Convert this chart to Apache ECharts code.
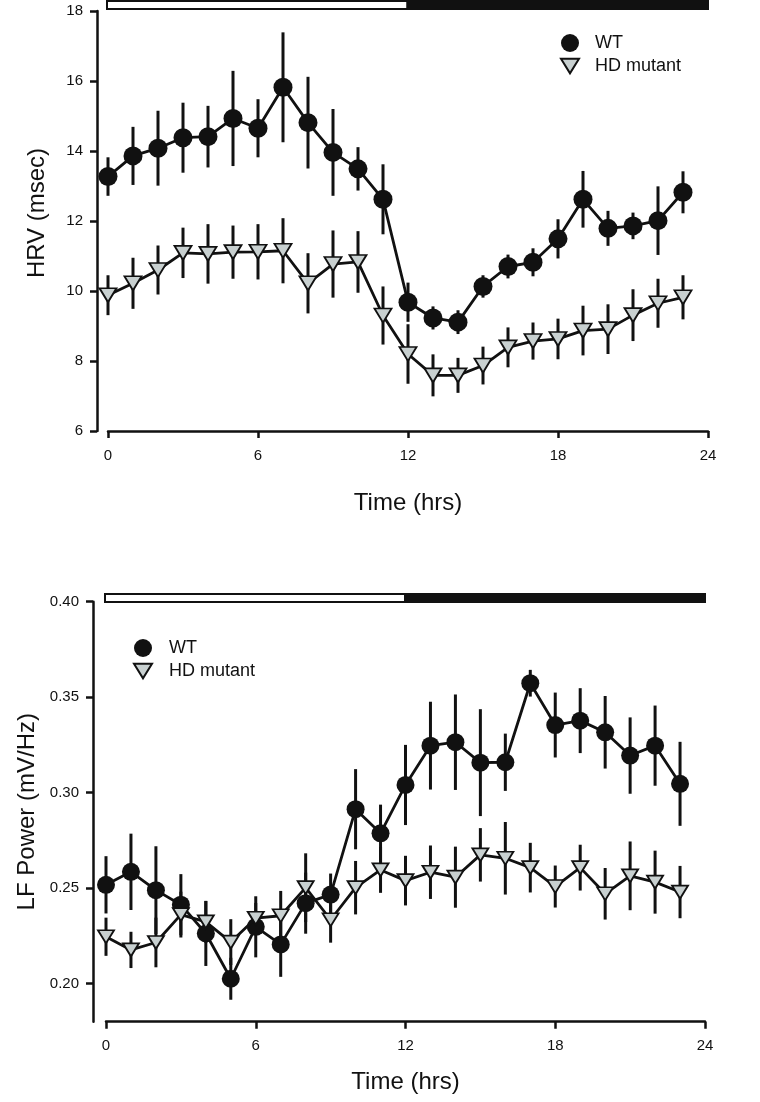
<!DOCTYPE html>
<html>
<head>
<meta charset="utf-8">
<script src="https://cdn.jsdelivr.net/npm/echarts@6/dist/echarts.min.js"></script>
<style>
  html, body { margin: 0; padding: 0; background: #fff; }
  #main { width: 760px; height: 1102px; }
</style>
</head>
<body>
<div id="main"></div>
<script>
// hours of the day (x)
var hours = [0,1,2,3,4,5,6,7,8,9,10,11,12,13,14,15,16,17,18,19,20,21,22,23];
var hourTicks = [0, 6, 12, 18, 24];

// light / dark phases (start hr, end hr)
var lightPhase = [0, 12];
var darkPhase = [12, 24];

// HRV (msec)
var hrvWT = [13.27,13.86,14.08,14.38,14.41,14.93,14.65,15.82,14.81,13.96,13.49,12.62,9.68,9.23,9.11,10.13,10.70,10.82,11.49,12.62,11.79,11.86,12.01,12.82];
var hrvWTErr = [0.55,0.83,1.07,1.00,0.88,1.36,0.83,1.57,1.31,1.24,0.62,1.00,0.56,0.33,0.34,0.32,0.34,0.40,0.56,0.81,0.50,0.38,0.98,0.60];
var hrvHD = [9.88,10.22,10.60,11.09,11.06,11.11,11.12,11.15,10.22,10.77,10.83,9.30,8.20,7.59,7.59,7.87,8.39,8.57,8.63,8.87,8.91,9.31,9.65,9.82];
var hrvHDErr = [0.57,0.73,0.70,0.72,0.85,0.76,0.79,0.93,0.86,0.96,0.88,0.83,0.85,0.60,0.50,0.54,0.57,0.53,0.58,0.71,0.71,0.74,0.70,0.63];
var hrvTicks = [6, 8, 10, 12, 14, 16, 18];

// LF power (mV/Hz)
var lfWT = [0.2517,0.2585,0.2489,0.2413,0.2262,0.2025,0.2297,0.2205,0.2421,0.2466,0.2913,0.2787,0.3040,0.3246,0.3264,0.3157,0.3159,0.3573,0.3354,0.3377,0.3316,0.3194,0.3246,0.3046];
var lfWTErr = [0.015,0.020,0.023,0.016,0.017,0.011,0.016,0.017,0.016,0.011,0.021,0.015,0.021,0.023,0.025,0.028,0.015,0.007,0.017,0.017,0.019,0.020,0.021,0.022];
var lfHD = [0.2245,0.2176,0.2215,0.2361,0.2323,0.2217,0.2342,0.2355,0.2502,0.2334,0.2502,0.2595,0.2539,0.2583,0.2557,0.2674,0.2656,0.2607,0.2508,0.2607,0.2470,0.2564,0.2531,0.2479];
var lfHDErr = [0.010,0.0095,0.013,0.012,0.011,0.012,0.008,0.013,0.018,0.012,0.014,0.012,0.013,0.014,0.016,0.014,0.019,0.013,0.011,0.012,0.0135,0.018,0.0165,0.0137];
var lfTicks = [0.20, 0.25, 0.30, 0.35, 0.40];

var FONT = 'Liberation Sans, Arial, sans-serif';
var INK = '#111';
var HD_FILL = '#c8d0d0';
var TRI = 'path://M0,0L16,0L8,13Z';

var chart = echarts.init(document.getElementById('main'), null, { renderer: 'canvas' });

function pts(vals) {
  return hours.map(function (h, i) { return [h, vals[i]]; });
}
function errPts(vals, errs) {
  return hours.map(function (h, i) { return [h, vals[i] - errs[i], vals[i] + errs[i]]; });
}
function renderErr(params, api) {
  var x = api.value(0);
  var lo = api.coord([x, api.value(1)]);
  var hi = api.coord([x, api.value(2)]);
  return {
    type: 'line',
    shape: { x1: lo[0], y1: lo[1], x2: hi[0], y2: hi[1] },
    style: { stroke: INK, lineWidth: 3 }
  };
}
function renderPhase(params, api) {
  var a = api.coord([api.value(0), 1]);
  var b = api.coord([api.value(1), 0]);
  return {
    type: 'rect',
    shape: { x: a[0], y: a[1], width: b[0] - a[0], height: b[1] - a[1] },
    style: { fill: api.value(2) ? INK : '#fff', stroke: INK, lineWidth: 2 }
  };
}

function xAxisFor(gi, name, gap) {
  return {
    gridIndex: gi, type: 'value', min: 0, max: 24, interval: 6,
    name: name, nameLocation: 'middle', nameGap: gap,
    nameTextStyle: { fontFamily: FONT, fontSize: 24, color: INK },
    axisLine: { onZero: false, lineStyle: { color: INK, width: 2.5 } },
    axisTick: { inside: false, length: 7, lineStyle: { color: INK, width: 2.5 } },
    axisLabel: { fontFamily: FONT, fontSize: 15, color: INK, margin: 17 },
    splitLine: { show: false }
  };
}

var option = {
  animation: false,
  backgroundColor: '#fff',
  textStyle: { fontFamily: FONT },
  grid: [
    { left: 108, width: 600, top: 11, height: 420 },
    { left: 106, width: 599, top: 601.7, height: 420 },
    { left: 107, width: 601, top: 1, height: 8 },
    { left: 105, width: 600, top: 594, height: 8 }
  ],
  legend: [
    {
      left: 555, top: 29, orient: 'vertical', itemWidth: 18, itemHeight: 18, itemGap: 5,
      textStyle: { fontFamily: FONT, fontSize: 18, color: INK, padding: [0, 0, 0, 11] },
      data: [{ name: 'WT', icon: 'circle' }, { name: 'HD mutant', icon: TRI }]
    },
    {
      left: 128, top: 634, orient: 'vertical', itemWidth: 18, itemHeight: 18, itemGap: 5,
      textStyle: { fontFamily: FONT, fontSize: 18, color: INK, padding: [0, 0, 0, 12] },
      data: [{ name: 'WT', icon: 'circle' }, { name: 'HD mutant', icon: TRI }]
    }
  ],
  xAxis: [
    xAxisFor(0, 'Time (hrs)', 60),
    xAxisFor(1, 'Time (hrs)', 49),
    { gridIndex: 2, type: 'value', min: 0, max: 24, show: false },
    { gridIndex: 3, type: 'value', min: 0, max: 24, show: false }
  ],
  yAxis: [
    {
      gridIndex: 0, type: 'value', min: 6, max: 18, interval: 2, offset: 11,
      name: 'HRV (msec)', nameLocation: 'middle', nameGap: 48,
      nameTextStyle: { fontFamily: FONT, fontSize: 24, color: INK, padding: [0, 0, 0, 16] },
      axisLine: { show: true, onZero: false, lineStyle: { color: INK, width: 2.5 } },
      axisTick: { show: true, inside: false, length: 7, lineStyle: { color: INK, width: 2.5 } },
      axisLabel: { fontFamily: FONT, fontSize: 15, color: INK, margin: 14 },
      splitLine: { show: false }
    },
    {
      gridIndex: 1, type: 'value', min: 0.18, max: 0.40, offset: 13,
      name: 'LF Power (mV/Hz)', nameLocation: 'middle', nameGap: 38,
      nameTextStyle: { fontFamily: FONT, fontSize: 24, color: INK },
      axisLine: { show: true, onZero: false, lineStyle: { color: INK, width: 2.5 } },
      axisTick: { show: true, inside: false, length: 7, customValues: lfTicks, lineStyle: { color: INK, width: 2.5 } },
      axisLabel: {
        fontFamily: FONT, fontSize: 15, color: INK, margin: 14, customValues: lfTicks,
        formatter: function (v) { return v.toFixed(2); }
      },
      splitLine: { show: false }
    },
    { gridIndex: 2, type: 'value', min: 0, max: 1, show: false },
    { gridIndex: 3, type: 'value', min: 0, max: 1, show: false }
  ],
  series: [
    // light/dark bars
    {
      type: 'custom', xAxisIndex: 2, yAxisIndex: 2, renderItem: renderPhase, silent: true,
      data: [[lightPhase[0], lightPhase[1], 0], [darkPhase[0], darkPhase[1], 1]]
    },
    {
      type: 'custom', xAxisIndex: 3, yAxisIndex: 3, renderItem: renderPhase, silent: true,
      data: [[lightPhase[0], lightPhase[1], 0], [darkPhase[0], darkPhase[1], 1]]
    },
    // error bars
    { type: 'custom', xAxisIndex: 0, yAxisIndex: 0, z: 1, renderItem: renderErr, encode: { x: 0, y: [1, 2] }, data: errPts(hrvWT, hrvWTErr) },
    { type: 'custom', xAxisIndex: 0, yAxisIndex: 0, z: 1, renderItem: renderErr, encode: { x: 0, y: [1, 2] }, data: errPts(hrvHD, hrvHDErr) },
    { type: 'custom', xAxisIndex: 1, yAxisIndex: 1, z: 1, renderItem: renderErr, encode: { x: 0, y: [1, 2] }, data: errPts(lfWT, lfWTErr) },
    { type: 'custom', xAxisIndex: 1, yAxisIndex: 1, z: 1, renderItem: renderErr, encode: { x: 0, y: [1, 2] }, data: errPts(lfHD, lfHDErr) },
    // lines + symbols
    {
      name: 'WT', type: 'line', xAxisIndex: 0, yAxisIndex: 0, z: 2, data: pts(hrvWT),
      symbol: 'circle', symbolSize: 19, showAllSymbol: true,
      lineStyle: { color: INK, width: 2.8 }, itemStyle: { color: INK, borderColor: INK, borderWidth: 0 }
    },
    {
      name: 'HD mutant', type: 'line', xAxisIndex: 0, yAxisIndex: 0, z: 3, data: pts(hrvHD),
      symbol: TRI, symbolSize: [17, 14], showAllSymbol: true,
      lineStyle: { color: INK, width: 2.8 }, itemStyle: { color: HD_FILL, borderColor: INK, borderWidth: 1.8 }
    },
    {
      name: 'WT', type: 'line', xAxisIndex: 1, yAxisIndex: 1, z: 2, data: pts(lfWT),
      symbol: 'circle', symbolSize: 18, showAllSymbol: true,
      lineStyle: { color: INK, width: 2.8 }, itemStyle: { color: INK, borderColor: INK, borderWidth: 0 }
    },
    {
      name: 'HD mutant', type: 'line', xAxisIndex: 1, yAxisIndex: 1, z: 3, data: pts(lfHD),
      symbol: TRI, symbolSize: [16, 13], showAllSymbol: true,
      lineStyle: { color: INK, width: 2.8 }, itemStyle: { color: HD_FILL, borderColor: INK, borderWidth: 1.8 }
    }
  ]
};

chart.setOption(option);
</script>
</body>
</html>
